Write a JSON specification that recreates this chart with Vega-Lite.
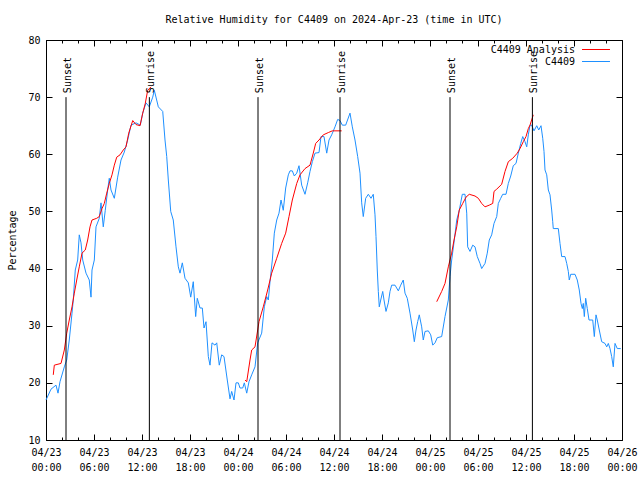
{
  "$schema": "https://vega.github.io/schema/vega-lite/v6.json",
  "autosize": {"type": "none"},
  "width": 576,
  "height": 400,
  "padding": {"left": 46, "top": 40, "right": 18, "bottom": 40},
  "background": "white",
  "title": {"text": "Relative Humidity for C4409 on 2024-Apr-23 (time in UTC)", "font": "DejaVu Sans Mono", "fontSize": 10, "fontWeight": "normal", "color": "black", "anchor": "middle", "frame": "group", "offset": 10},
  "config": {"view": {"stroke": "black", "strokeWidth": 1}},
  "datasets": {
    "blue": [
      {"s":"C4409","h":0,"v":17.0},{"s":"C4409","h":0.625,"v":18.9},{"s":"C4409","h":1.25,"v":19.6},{"s":"C4409","h":1.5,"v":18.2},{"s":"C4409","h":1.75,"v":20.2},{"s":"C4409","h":2.29,"v":22.8},{"s":"C4409","h":2.59,"v":24},{"s":"C4409","h":2.91,"v":27.5},{"s":"C4409","h":3.25,"v":32.2},{"s":"C4409","h":3.41,"v":34.5},{"s":"C4409","h":3.66,"v":39.75},{"s":"C4409","h":3.96,"v":41.5},{"s":"C4409","h":4.16,"v":45.9},{"s":"C4409","h":4.375,"v":44.5},{"s":"C4409","h":4.59,"v":41.5},{"s":"C4409","h":5,"v":39.2},{"s":"C4409","h":5.41,"v":38},{"s":"C4409","h":5.625,"v":35},{"s":"C4409","h":5.75,"v":39.75},{"s":"C4409","h":6.04,"v":41.5},{"s":"C4409","h":6.25,"v":47.3},{"s":"C4409","h":6.66,"v":48.8},{"s":"C4409","h":6.875,"v":51.5},{"s":"C4409","h":7.16,"v":47.3},{"s":"C4409","h":7.41,"v":50.2},{"s":"C4409","h":7.71,"v":53.75},{"s":"C4409","h":7.91,"v":55.8},{"s":"C4409","h":8.125,"v":53.75},{"s":"C4409","h":8.54,"v":52.3},{"s":"C4409","h":8.96,"v":56},{"s":"C4409","h":9.375,"v":59},{"s":"C4409","h":9.79,"v":60.4},{"s":"C4409","h":10.21,"v":62.5},{"s":"C4409","h":10.625,"v":65.1},{"s":"C4409","h":11.25,"v":65.5},{"s":"C4409","h":11.79,"v":65.1},{"s":"C4409","h":12.09,"v":67.2},{"s":"C4409","h":12.5,"v":69},{"s":"C4409","h":12.91,"v":68.3},{"s":"C4409","h":13.34,"v":70},{"s":"C4409","h":13.54,"v":71.2},{"s":"C4409","h":14.04,"v":68.3},{"s":"C4409","h":14.59,"v":67.5},{"s":"C4409","h":14.875,"v":62.5},{"s":"C4409","h":15.09,"v":59.6},{"s":"C4409","h":15.29,"v":55.5},{"s":"C4409","h":15.59,"v":50},{"s":"C4409","h":15.91,"v":48.5},{"s":"C4409","h":16.25,"v":43.8},{"s":"C4409","h":16.54,"v":40.3},{"s":"C4409","h":16.75,"v":39.2},{"s":"C4409","h":17.04,"v":41},{"s":"C4409","h":17.375,"v":38.3},{"s":"C4409","h":17.79,"v":37.5},{"s":"C4409","h":18.09,"v":35},{"s":"C4409","h":18.41,"v":37.7},{"s":"C4409","h":18.71,"v":31.6},{"s":"C4409","h":18.91,"v":34.8},{"s":"C4409","h":19.25,"v":33.1},{"s":"C4409","h":19.54,"v":33.1},{"s":"C4409","h":19.75,"v":29.6},{"s":"C4409","h":20,"v":30.7},{"s":"C4409","h":20.29,"v":24.6},{"s":"C4409","h":20.5,"v":23.1},{"s":"C4409","h":20.75,"v":27},{"s":"C4409","h":21.125,"v":26.6},{"s":"C4409","h":21.34,"v":27},{"s":"C4409","h":21.66,"v":23.1},{"s":"C4409","h":21.96,"v":24.9},{"s":"C4409","h":22.25,"v":24.6},{"s":"C4409","h":22.66,"v":20.5},{"s":"C4409","h":23,"v":17.2},{"s":"C4409","h":23.21,"v":18.5},{"s":"C4409","h":23.5,"v":17},{"s":"C4409","h":23.75,"v":20},
      {"s":"C4409","h":24.04,"v":20},{"s":"C4409","h":24.25,"v":19.1},{"s":"C4409","h":24.59,"v":19.1},{"s":"C4409","h":24.79,"v":20},{"s":"C4409","h":25.09,"v":18.2},{"s":"C4409","h":25.375,"v":20.2},{"s":"C4409","h":25.71,"v":21.4},{"s":"C4409","h":26.125,"v":22.8},{"s":"C4409","h":26.46,"v":27},{"s":"C4409","h":26.96,"v":28.7},{"s":"C4409","h":27.29,"v":33.3},{"s":"C4409","h":27.59,"v":35.1},{"s":"C4409","h":27.79,"v":34.5},{"s":"C4409","h":28,"v":37.7},{"s":"C4409","h":28.29,"v":41.5},{"s":"C4409","h":28.54,"v":46.2},{"s":"C4409","h":28.84,"v":48.5},{"s":"C4409","h":29.125,"v":49.7},{"s":"C4409","h":29.375,"v":52},{"s":"C4409","h":29.66,"v":50.2},{"s":"C4409","h":29.96,"v":54.1},{"s":"C4409","h":30.29,"v":56.4},{"s":"C4409","h":30.5,"v":57.1},{"s":"C4409","h":30.79,"v":57.1},{"s":"C4409","h":31.04,"v":56.2},{"s":"C4409","h":31.34,"v":56.7},{"s":"C4409","h":31.625,"v":58},{"s":"C4409","h":31.96,"v":54.6},{"s":"C4409","h":32.375,"v":53},{"s":"C4409","h":32.71,"v":55},{"s":"C4409","h":33,"v":57},{"s":"C4409","h":33.29,"v":58.7},{"s":"C4409","h":33.625,"v":60.2},{"s":"C4409","h":34.125,"v":60.3},{"s":"C4409","h":34.375,"v":63.1},{"s":"C4409","h":34.75,"v":63.1},{"s":"C4409","h":35.09,"v":60.2},{"s":"C4409","h":35.375,"v":62.5},{"s":"C4409","h":35.71,"v":63.4},{"s":"C4409","h":36.125,"v":64.8},{"s":"C4409","h":36.46,"v":66.1},{"s":"C4409","h":36.75,"v":65.9},{"s":"C4409","h":37.04,"v":65.1},{"s":"C4409","h":37.46,"v":65.1},{"s":"C4409","h":38,"v":67.2},{"s":"C4409","h":38.29,"v":64.8},{"s":"C4409","h":38.625,"v":62.5},{"s":"C4409","h":38.96,"v":59.6},{"s":"C4409","h":39.25,"v":56.7},{"s":"C4409","h":39.46,"v":51.5},{"s":"C4409","h":39.66,"v":49.1},{"s":"C4409","h":39.96,"v":52.3},{"s":"C4409","h":40.29,"v":53},{"s":"C4409","h":40.625,"v":52.3},{"s":"C4409","h":40.91,"v":53},{"s":"C4409","h":41.125,"v":49.4},{"s":"C4409","h":41.25,"v":45.6},{"s":"C4409","h":41.41,"v":39.75},{"s":"C4409","h":41.54,"v":36},{"s":"C4409","h":41.66,"v":33.3},{"s":"C4409","h":41.84,"v":34.5},{"s":"C4409","h":42.09,"v":36},{"s":"C4409","h":42.25,"v":34.5},{"s":"C4409","h":42.5,"v":32.5},{"s":"C4409","h":42.79,"v":34},{"s":"C4409","h":43,"v":36},{"s":"C4409","h":43.21,"v":37.1},{"s":"C4409","h":43.625,"v":37.1},{"s":"C4409","h":44.04,"v":36.1},{"s":"C4409","h":44.34,"v":37.1},{"s":"C4409","h":44.66,"v":38},{"s":"C4409","h":44.875,"v":35.7},{"s":"C4409","h":45.16,"v":34.8},{"s":"C4409","h":45.5,"v":32.2},{"s":"C4409","h":45.84,"v":29.25},{"s":"C4409","h":46.04,"v":27.2},{"s":"C4409","h":46.25,"v":29.25},{"s":"C4409","h":46.46,"v":30.7},{"s":"C4409","h":46.66,"v":31.9},{"s":"C4409","h":46.96,"v":29.8},{"s":"C4409","h":47.16,"v":27.5},{"s":"C4409","h":47.375,"v":29},{"s":"C4409","h":47.79,"v":29.1},
      {"s":"C4409","h":48.09,"v":28.4},{"s":"C4409","h":48.34,"v":26.6},{"s":"C4409","h":48.625,"v":27},{"s":"C4409","h":48.91,"v":27.9},{"s":"C4409","h":49.46,"v":28.1},{"s":"C4409","h":49.875,"v":31.6},{"s":"C4409","h":50.29,"v":34.5},{"s":"C4409","h":50.5,"v":38.6},{"s":"C4409","h":50.71,"v":41.5},{"s":"C4409","h":51.04,"v":45},{"s":"C4409","h":51.34,"v":48.5},{"s":"C4409","h":51.66,"v":50.2},{"s":"C4409","h":52.04,"v":53},{"s":"C4409","h":52.375,"v":53},{"s":"C4409","h":52.59,"v":49.7},{"s":"C4409","h":52.71,"v":43.8},{"s":"C4409","h":53,"v":43},{"s":"C4409","h":53.34,"v":44.1},{"s":"C4409","h":53.625,"v":43.8},{"s":"C4409","h":53.91,"v":42.1},{"s":"C4409","h":54.25,"v":40.9},{"s":"C4409","h":54.46,"v":40},{"s":"C4409","h":54.875,"v":40.9},{"s":"C4409","h":55.16,"v":42.7},{"s":"C4409","h":55.41,"v":45},{"s":"C4409","h":55.71,"v":45.9},{"s":"C4409","h":56,"v":47.9},{"s":"C4409","h":56.34,"v":49.1},{"s":"C4409","h":56.54,"v":51.4},{"s":"C4409","h":56.84,"v":52.3},{"s":"C4409","h":57.09,"v":53},{"s":"C4409","h":57.5,"v":53},{"s":"C4409","h":57.79,"v":54.9},{"s":"C4409","h":58.09,"v":56.2},{"s":"C4409","h":58.41,"v":58},{"s":"C4409","h":58.75,"v":58.4},{"s":"C4409","h":59.04,"v":60.2},{"s":"C4409","h":59.34,"v":61.9},{"s":"C4409","h":59.59,"v":63.1},{"s":"C4409","h":59.875,"v":62.2},{"s":"C4409","h":60.09,"v":61.3},{"s":"C4409","h":60.29,"v":63.4},{"s":"C4409","h":60.5,"v":65.1},{"s":"C4409","h":60.71,"v":65.1},{"s":"C4409","h":61,"v":64.1},{"s":"C4409","h":61.34,"v":65},{"s":"C4409","h":61.59,"v":64.25},{"s":"C4409","h":61.875,"v":65},{"s":"C4409","h":62.09,"v":62.8},{"s":"C4409","h":62.25,"v":60.5},{"s":"C4409","h":62.375,"v":57.25},{"s":"C4409","h":62.59,"v":56.4},{"s":"C4409","h":62.79,"v":53.75},{"s":"C4409","h":63,"v":52.9},{"s":"C4409","h":63.21,"v":50.25},{"s":"C4409","h":63.34,"v":48.2},{"s":"C4409","h":63.41,"v":47},{"s":"C4409","h":64.04,"v":47},{"s":"C4409","h":64.25,"v":44.4},{"s":"C4409","h":64.46,"v":42.1},{"s":"C4409","h":64.875,"v":42.1},{"s":"C4409","h":65.09,"v":40.9},{"s":"C4409","h":65.29,"v":39.5},{"s":"C4409","h":65.41,"v":38},{"s":"C4409","h":65.59,"v":39},{"s":"C4409","h":66.125,"v":39},{"s":"C4409","h":66.41,"v":38},{"s":"C4409","h":66.66,"v":36.25},{"s":"C4409","h":66.875,"v":33.9},{"s":"C4409","h":67.04,"v":33},{"s":"C4409","h":67.16,"v":33.9},{"s":"C4409","h":67.29,"v":31.6},{"s":"C4409","h":67.46,"v":34.8},{"s":"C4409","h":67.66,"v":33},{"s":"C4409","h":67.875,"v":31},{"s":"C4409","h":68.34,"v":31},{"s":"C4409","h":68.54,"v":28.1},{"s":"C4409","h":68.75,"v":31.9},{"s":"C4409","h":68.91,"v":31},{"s":"C4409","h":69.16,"v":29.25},{"s":"C4409","h":69.46,"v":27.2},{"s":"C4409","h":69.875,"v":26.9},{"s":"C4409","h":70.09,"v":26.3},{"s":"C4409","h":70.29,"v":26.9},{"s":"C4409","h":70.5,"v":26},{"s":"C4409","h":70.71,"v":24.6},{"s":"C4409","h":70.91,"v":22.8},{"s":"C4409","h":71.125,"v":26.9},{"s":"C4409","h":71.41,"v":26},{"s":"C4409","h":71.84,"v":26}
    ],
    "red": [
      {"s":"C4409 Analysis","g":1,"h":0.91,"v":21.4},{"s":"C4409 Analysis","g":1,"h":1.04,"v":23.1},{"s":"C4409 Analysis","g":1,"h":1.875,"v":23.4},{"s":"C4409 Analysis","g":1,"h":2.29,"v":25.75},{"s":"C4409 Analysis","g":1,"h":2.59,"v":28.7},{"s":"C4409 Analysis","g":1,"h":2.91,"v":31},{"s":"C4409 Analysis","g":1,"h":3.25,"v":33.3},{"s":"C4409 Analysis","g":1,"h":3.54,"v":35.7},{"s":"C4409 Analysis","g":1,"h":3.84,"v":38},{"s":"C4409 Analysis","g":1,"h":4.16,"v":40.3},{"s":"C4409 Analysis","g":1,"h":4.5,"v":42.7},{"s":"C4409 Analysis","g":1,"h":4.91,"v":43.25},{"s":"C4409 Analysis","g":1,"h":5.21,"v":45},{"s":"C4409 Analysis","g":1,"h":5.5,"v":47.3},{"s":"C4409 Analysis","g":1,"h":5.75,"v":48.5},{"s":"C4409 Analysis","g":1,"h":6.34,"v":48.8},{"s":"C4409 Analysis","g":1,"h":6.66,"v":49.1},{"s":"C4409 Analysis","g":1,"h":7,"v":50.5},{"s":"C4409 Analysis","g":1,"h":7.29,"v":51.4},{"s":"C4409 Analysis","g":1,"h":7.59,"v":53.2},{"s":"C4409 Analysis","g":1,"h":7.91,"v":54.9},{"s":"C4409 Analysis","g":1,"h":8.25,"v":56.4},{"s":"C4409 Analysis","g":1,"h":8.54,"v":58.1},{"s":"C4409 Analysis","g":1,"h":8.84,"v":59.5},{"s":"C4409 Analysis","g":1,"h":9.25,"v":59.9},{"s":"C4409 Analysis","g":1,"h":9.66,"v":60.75},{"s":"C4409 Analysis","g":1,"h":10,"v":61.3},{"s":"C4409 Analysis","g":1,"h":10.34,"v":63.7},{"s":"C4409 Analysis","g":1,"h":10.84,"v":65.9},{"s":"C4409 Analysis","g":1,"h":11.25,"v":65.2},{"s":"C4409 Analysis","g":1,"h":11.75,"v":65.0},{"s":"C4409 Analysis","g":1,"h":12.09,"v":67.2},{"s":"C4409 Analysis","g":1,"h":12.41,"v":68.9},{"s":"C4409 Analysis","g":1,"h":12.71,"v":71.2},{"s":"C4409 Analysis","g":1,"h":13.125,"v":71.8},
      {"s":"C4409 Analysis","g":2,"h":24.875,"v":20.5},{"s":"C4409 Analysis","g":2,"h":25.09,"v":20.2},{"s":"C4409 Analysis","g":2,"h":25.5,"v":24},{"s":"C4409 Analysis","g":2,"h":25.71,"v":25.75},{"s":"C4409 Analysis","g":2,"h":26.125,"v":26.3},{"s":"C4409 Analysis","g":2,"h":26.625,"v":30.7},{"s":"C4409 Analysis","g":2,"h":27.16,"v":33.3},{"s":"C4409 Analysis","g":2,"h":27.71,"v":36.25},{"s":"C4409 Analysis","g":2,"h":28.21,"v":39.2},{"s":"C4409 Analysis","g":2,"h":28.84,"v":41.8},{"s":"C4409 Analysis","g":2,"h":29.46,"v":44.4},{"s":"C4409 Analysis","g":2,"h":29.96,"v":46.2},{"s":"C4409 Analysis","g":2,"h":30.375,"v":49.1},{"s":"C4409 Analysis","g":2,"h":30.79,"v":52},{"s":"C4409 Analysis","g":2,"h":31.34,"v":54.9},{"s":"C4409 Analysis","g":2,"h":31.75,"v":56.4},{"s":"C4409 Analysis","g":2,"h":32.375,"v":57.5},{"s":"C4409 Analysis","g":2,"h":33,"v":58.1},{"s":"C4409 Analysis","g":2,"h":33.41,"v":60.2},{"s":"C4409 Analysis","g":2,"h":33.71,"v":61.9},{"s":"C4409 Analysis","g":2,"h":34.125,"v":62.5},{"s":"C4409 Analysis","g":2,"h":34.66,"v":63.4},{"s":"C4409 Analysis","g":2,"h":35.29,"v":63.8},{"s":"C4409 Analysis","g":2,"h":35.79,"v":64.1},{"s":"C4409 Analysis","g":2,"h":36.96,"v":64.1},
      {"s":"C4409 Analysis","g":3,"h":48.84,"v":34.2},{"s":"C4409 Analysis","g":3,"h":49.46,"v":36},{"s":"C4409 Analysis","g":3,"h":49.875,"v":37.4},{"s":"C4409 Analysis","g":3,"h":50.29,"v":40.3},{"s":"C4409 Analysis","g":3,"h":50.71,"v":42.7},{"s":"C4409 Analysis","g":3,"h":51,"v":45},{"s":"C4409 Analysis","g":3,"h":51.34,"v":47.3},{"s":"C4409 Analysis","g":3,"h":51.66,"v":50.25},{"s":"C4409 Analysis","g":3,"h":52.09,"v":51.4},{"s":"C4409 Analysis","g":3,"h":52.5,"v":52.5},{"s":"C4409 Analysis","g":3,"h":52.91,"v":53},{"s":"C4409 Analysis","g":3,"h":53.625,"v":52.7},{"s":"C4409 Analysis","g":3,"h":54.04,"v":52.3},{"s":"C4409 Analysis","g":3,"h":54.46,"v":51.4},{"s":"C4409 Analysis","g":3,"h":54.875,"v":50.8},{"s":"C4409 Analysis","g":3,"h":55.41,"v":51.1},{"s":"C4409 Analysis","g":3,"h":55.84,"v":51.4},{"s":"C4409 Analysis","g":3,"h":56,"v":53.5},{"s":"C4409 Analysis","g":3,"h":56.34,"v":53.9},{"s":"C4409 Analysis","g":3,"h":56.96,"v":54.75},{"s":"C4409 Analysis","g":3,"h":57.375,"v":57},{"s":"C4409 Analysis","g":3,"h":57.79,"v":58.7},{"s":"C4409 Analysis","g":3,"h":58.34,"v":59.3},{"s":"C4409 Analysis","g":3,"h":58.91,"v":60.2},{"s":"C4409 Analysis","g":3,"h":59.25,"v":61},{"s":"C4409 Analysis","g":3,"h":59.66,"v":62.2},{"s":"C4409 Analysis","g":3,"h":60,"v":63.1},{"s":"C4409 Analysis","g":3,"h":60.29,"v":64.5},{"s":"C4409 Analysis","g":3,"h":60.5,"v":65.1},{"s":"C4409 Analysis","g":3,"h":60.91,"v":66.9}
    ],
    "sun": [
      {"h":2.5,"label":"Sunset"},{"h":12.92,"label":"Sunrise"},
      {"h":26.5,"label":"Sunset"},{"h":36.75,"label":"Sunrise"},
      {"h":50.5,"label":"Sunset"},{"h":60.8,"label":"Sunrise"}
    ]
  },
  "resolve": {"axis": {"x": "independent", "y": "independent"}},
  "layer": [
    {
      "data": {"name": "blue"},
      "mark": {"type": "line", "strokeWidth": 1},
      "encoding": {
        "x": {"field": "h", "type": "quantitative",
          "scale": {"domain": [0, 72], "nice": false, "zero": false},
          "axis": {"orient": "bottom", "title": null, "ticks": true, "tickSize": -6, "tickColor": "black", "domain": false, "grid": false,
            "values": [0, 6, 12, 18, 24, 30, 36, 42, 48, 54, 60, 66, 72],
            "labelExpr": "['04/' + (23 + floor(datum.value / 24)), (datum.value % 24 < 10 ? '0' : '') + (datum.value % 24) + ':00']",
            "labelFont": "DejaVu Sans Mono", "labelFontSize": 10, "labelColor": "black", "labelPadding": 13, "labelLineHeight": 15, "labelBaseline": "top", "labelFlush": false, "labelOverlap": false}},
        "y": {"field": "v", "type": "quantitative",
          "scale": {"domain": [10, 80], "nice": false, "zero": false},
          "axis": {"orient": "left", "title": "Percentage", "ticks": true, "tickSize": -6, "tickColor": "black", "domain": false, "grid": false, "values": [10, 20, 30, 40, 50, 60, 70, 80],
            "labelFont": "DejaVu Sans Mono", "labelFontSize": 10, "labelColor": "black", "labelPadding": 12,
            "titleFont": "DejaVu Sans Mono", "titleFontSize": 10, "titleFontWeight": "normal", "titleColor": "black", "titlePadding": 10}},
        "color": {"field": "s", "type": "nominal",
          "scale": {"domain": ["C4409 Analysis", "C4409"], "range": ["#ff0000", "#1e90ff"]},
          "legend": {"orient": "none", "legendX": 543, "legendY": 2.5, "title": null, "symbolType": "M-2.15,0H2.15", "symbolSize": 169, "symbolStrokeWidth": 1, "labelAlign": "right", "labelOffset": -28, "labelFont": "DejaVu Sans Mono", "labelFontSize": 10, "labelColor": "black", "rowPadding": 0, "padding": 0, "labelLimit": 0}}
      }
    },
    {
      "data": {"name": "red"},
      "mark": {"type": "line", "strokeWidth": 1},
      "encoding": {
        "x": {"field": "h", "type": "quantitative",
          "axis": {"orient": "bottom", "title": null, "labels": false, "domain": false, "grid": false,
            "values": [0, 2, 4, 6, 8, 10, 12, 14, 16, 18, 20, 22, 24, 26, 28, 30, 32, 34, 36, 38, 40, 42, 44, 46, 48, 50, 52, 54, 56, 58, 60, 62, 64, 66, 68, 70, 72],
            "tickColor": "black", "tickSize": -3}},
        "y": {"field": "v", "type": "quantitative",
          "axis": {"orient": "right", "title": null, "labels": false, "domain": false, "grid": false, "values": [10, 20, 30, 40, 50, 60, 70, 80], "tickColor": "black", "tickSize": -6}},
        "color": {"field": "s", "type": "nominal"},
        "detail": {"field": "g", "type": "nominal"}
      }
    },
    {
      "data": {"name": "sun"},
      "mark": {"type": "rule", "color": "black", "strokeWidth": 1},
      "encoding": {
        "x": {"field": "h", "type": "quantitative",
          "axis": {"orient": "top", "title": null, "labels": false, "domain": false, "grid": false,
            "values": [0, 6, 12, 18, 24, 30, 36, 42, 48, 54, 60, 66, 72], "tickColor": "black", "tickSize": -6}},
        "y": {"datum": 70, "type": "quantitative", "axis": null},
        "y2": {"datum": 10}
      }
    },
    {
      "data": {"name": "sun"},
      "mark": {"type": "text", "angle": 270, "align": "left", "baseline": "middle", "dx": 4, "dy": 2, "font": "DejaVu Sans Mono", "fontSize": 10, "color": "black"},
      "encoding": {
        "x": {"field": "h", "type": "quantitative",
          "axis": {"orient": "top", "title": null, "labels": false, "domain": false, "grid": false,
            "values": [0, 2, 4, 6, 8, 10, 12, 14, 16, 18, 20, 22, 24, 26, 28, 30, 32, 34, 36, 38, 40, 42, 44, 46, 48, 50, 52, 54, 56, 58, 60, 62, 64, 66, 68, 70, 72],
            "tickColor": "black", "tickSize": -3}},
        "y": {"datum": 70, "type": "quantitative", "axis": null},
        "text": {"field": "label"}
      }
    }
  ]
}
